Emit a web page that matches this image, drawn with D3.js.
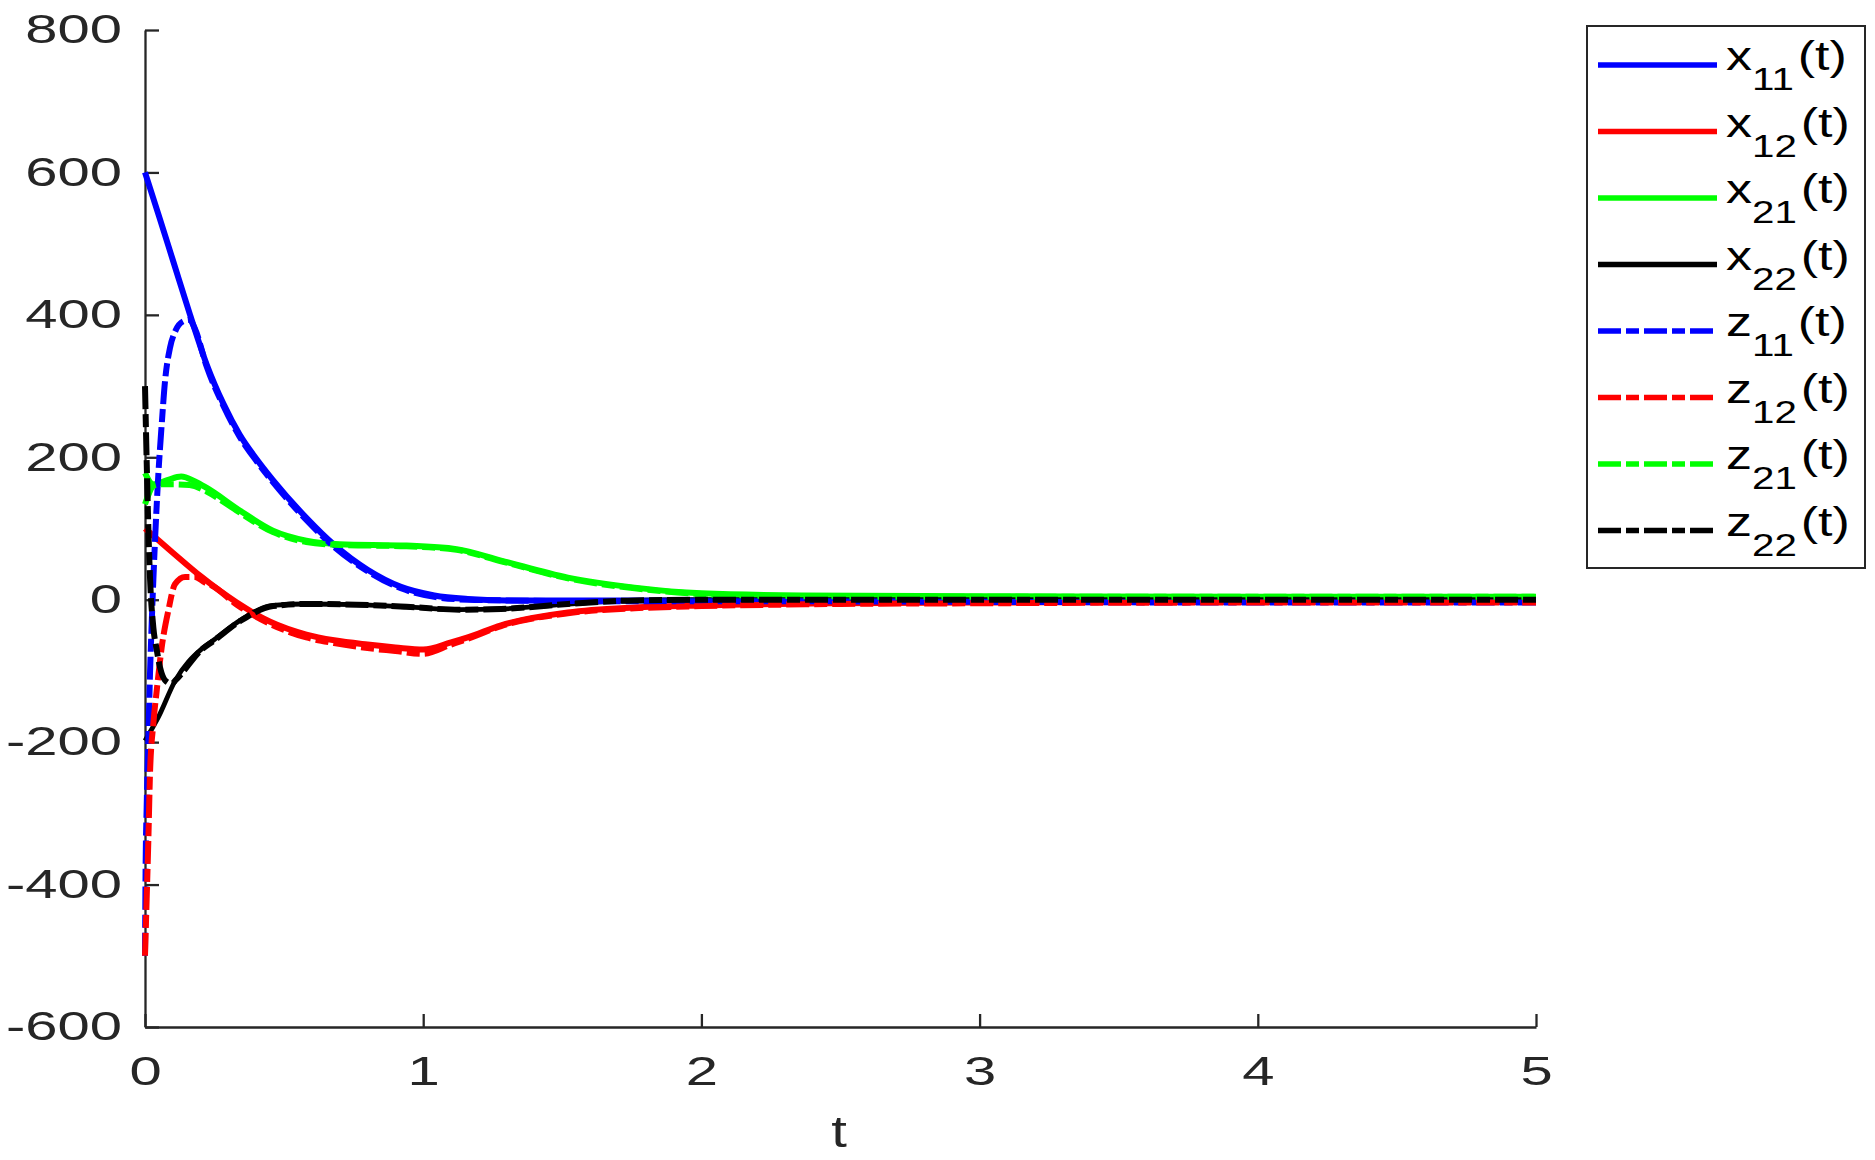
<!DOCTYPE html>
<style>
  body { margin: 0; background: white; }
  svg { display: block; }
  text { font-family: "Liberation Sans", Arial, Helvetica, sans-serif; }
  .axis path, .axis line { stroke: #262626; }
  .axis text { fill: #262626; }
</style>
<body>
</body>
<script src="https://cdn.jsdelivr.net/npm/d3@7"></script>
<script>
  // series: time points and values
  const x11T = [0, 0.05, 0.1, 0.162, 0.222, 0.282, 0.34, 0.4, 0.46, 0.58, 0.68, 0.8, 0.92, 1.04, 1.16, 1.3, 1.6, 2, 3, 4, 5];
  const x11V = [600, 539, 477, 400, 330, 275, 232, 198, 168, 115, 77, 42, 18, 6, 1, -1, -1, -1, -2, -3, -3];

  const x12T = [0, 0.1, 0.2, 0.33, 0.45, 0.58, 0.68, 0.8, 0.9, 1.0, 1.1, 1.16, 1.28, 1.52, 1.76, 2.0, 2.5, 3, 4, 5];
  const x12V = [100, 66, 33, -4, -31, -49, -57, -63, -67, -70, -60, -53, -36, -18, -11, -8, -5, -4, -3, -3];

  const x21T = [0, 0.03, 0.08, 0.13, 0.18, 0.222, 0.342, 0.46, 0.58, 0.7, 0.94, 1.12, 1.28, 1.52, 1.76, 2.0, 2.36, 3, 4, 5];
  const x21V = [178, 162, 168, 173, 166, 157, 125, 97, 83, 78, 76, 71, 55, 31, 17, 9, 6, 5, 4, 4];

  const x22T = [0, 0.048, 0.108, 0.204, 0.246, 0.342, 0.46, 0.58, 0.76, 0.94, 1.13, 1.28, 1.52, 1.76, 2.0, 3, 4, 5];
  const x22V = [-198, -165, -114, -69, -57, -29, -8, -6, -7, -10, -14, -13, -6, -1, 0, 0, 0, 0];

  const z11T = [0, 0.002, 0.006, 0.012, 0.018, 0.024, 0.036, 0.048, 0.06, 0.072, 0.09, 0.11, 0.138, 0.16, 0.18, 0.222, 0.282, 0.34, 0.4, 0.46, 0.58, 0.68, 0.8, 0.92, 1.04, 1.16, 1.3, 1.6, 2, 3, 4, 5];
  const z11V = [-500, -384, -291, -198, -104, -34, 83, 176, 246, 307, 354, 378, 391, 393, 380, 327, 272, 229, 195, 165, 112, 74, 40, 16, 4, 0, -1, -2, -2, -3, -4, -4];

  const z12T = [0, 0.006, 0.012, 0.018, 0.03, 0.042, 0.06, 0.084, 0.108, 0.144, 0.18, 0.216, 0.24, 0.33, 0.45, 0.58, 0.68, 0.8, 0.9, 1.0, 1.1, 1.16, 1.28, 1.52, 1.76, 2, 2.5, 3, 4, 5];
  const z12V = [-500, -420, -338, -244, -174, -128, -67, -15, 22, 32, 32, 24, 20, -7, -34, -53, -61, -68, -72, -76, -63, -55, -37, -19, -12, -9, -6, -5, -4, -4];

  const z21T = [0, 0.015, 0.03, 0.06, 0.1, 0.16, 0.222, 0.28, 0.342, 0.46, 0.58, 0.7, 0.94, 1.12, 1.28, 1.52, 1.76, 2.0, 2.36, 3, 4, 5];
  const z21V = [134, 150, 160, 162, 162, 161, 152, 138, 122, 95, 81, 77, 75, 70, 54, 30, 16, 8, 5, 4, 4, 4];

  const z22T = [0, 0.006, 0.012, 0.018, 0.03, 0.042, 0.054, 0.072, 0.096, 0.11, 0.204, 0.246, 0.342, 0.46, 0.58, 0.76, 0.94, 1.13, 1.28, 1.52, 1.76, 2, 3, 4, 5];
  const z22V = [300, 195, 101, 31, -39, -70, -95, -113, -118, -113, -70, -58, -30, -9, -6, -7, -10, -14, -13, -6, -1, 0, 0, 0, 0];

  const xTicks = [0, 1, 2, 3, 4, 5];
  const yTicks = [-600, -400, -200, 0, 200, 400, 600, 800];

  const names = ['x11', 'x12', 'x21', 'x22', 'z11', 'z12', 'z21', 'z22'];
  const colors = ['#0000ff', '#ff0000', '#00ff00', '#000000', '#0000ff', '#ff0000', '#00ff00', '#000000'];
  const times = [x11T, x12T, x21T, x22T, z11T, z12T, z21T, z22T];
  const values = [x11V, x12V, x21V, x22V, z11V, z12V, z21V, z22V];

  const W = 1875, H = 1160;
  const l = 145, r = 1536, t = 30, b = 1027;
  const dash = '23,5,13,5';

  const svg = d3.select('body').append('svg')
    .attr('width', W)
    .attr('height', H);

  const x = d3.scaleLinear().domain([0, 5]).range([l, r]);
  const y = d3.scaleLinear().domain([-600, 800]).range([b, t]);

  // plain hyphen for negatives, like the figure
  const fmt = d => String(d);

  // axes: only left and bottom, ticks pointing in
  const yAxis = svg.append('g').attr('class', 'axis')
    .attr('transform', `translate(${l}, 0)`)
    .call(d3.axisLeft(y).tickValues(yTicks).tickFormat(fmt)
            .tickSizeInner(-14).tickSizeOuter(0));
  yAxis.select('.domain').attr('stroke-width', 2.3);
  yAxis.selectAll('line').attr('stroke-width', 2.3);
  yAxis.selectAll('text')
    .attr('x', 0)
    .attr('font-size', 40)
    .attr('transform', 'translate(-23, 0) scale(1.45, 1)');

  const xAxis = svg.append('g').attr('class', 'axis')
    .attr('transform', `translate(0, ${b})`)
    .call(d3.axisBottom(x).tickValues(xTicks).tickFormat(fmt)
            .tickSizeInner(-13).tickSizeOuter(0));
  xAxis.select('.domain').attr('stroke-width', 2.3);
  xAxis.selectAll('line').attr('stroke-width', 2.3);
  xAxis.selectAll('text')
    .attr('y', 30)
    .attr('font-size', 40)
    .attr('transform', 'scale(1.45, 1)')
    .attr('x', 0);

  svg.append('text')
    .attr('transform', 'translate(839, 1147) scale(1.25, 1)')
    .attr('text-anchor', 'middle')
    .attr('font-size', 45)
    .attr('fill', '#262626')
    .text('t');

  // curves
  const line = d3.line()
    .x(d => x(d[0]))
    .y(d => y(d[1]))
    .curve(d3.curveMonotoneX);

  const plot = svg.append('g');
  names.forEach((n, i) => {
    const pts = times[i].map((tt, k) => [tt, values[i][k]]);
    plot.append('path')
      .attr('d', line(pts))
      .attr('fill', 'none')
      .attr('stroke', colors[i])
      .attr('stroke-width', n === 'x22' ? 4.8 : 6)
      .attr('stroke-dasharray', n[0] === 'z' ? dash : null)
      .attr('stroke-linejoin', 'round');
  });

  // legend
  const lg = svg.append('g');
  lg.append('rect')
    .attr('x', 1587).attr('y', 26)
    .attr('width', 278).attr('height', 542)
    .attr('fill', 'white')
    .attr('stroke', '#262626')
    .attr('stroke-width', 2);

  names.forEach((n, i) => {
    const ly = 65 + i * 66.5;
    lg.append('line')
      .attr('x1', 1598).attr('x2', 1717)
      .attr('y1', ly).attr('y2', ly)
      .attr('stroke', colors[i])
      .attr('stroke-width', 5.5)
      .attr('stroke-dasharray', n[0] === 'z' ? dash : null);
    const txt = lg.append('text')
      .attr('transform', `translate(1726, ${ly + 5}) scale(1.3, 1)`)
      .attr('font-size', 40)
      .attr('fill', '#000');
    txt.append('tspan').text(n[0]);
    txt.append('tspan')
      .attr('font-size', 31)
      .attr('dx', 0)
      .attr('dy', 20)
      .text(n.slice(1));
    txt.append('tspan')
      .attr('dx', 3)
      .attr('dy', -20)
      .text('(t)');
  });
</script>
